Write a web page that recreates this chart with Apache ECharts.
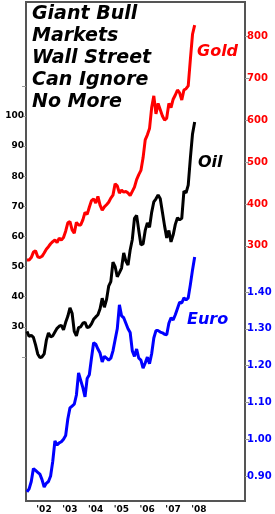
<!DOCTYPE html>
<html lang="en">
<head>
<meta charset="UTF-8">
<title>Giant Bull Markets</title>
<style>html,body{margin:0;padding:0;background:#fff}#main{width:275px;height:514px}</style>
</head>
<body>
<div id="main"></div>
<script src="https://cdn.jsdelivr.net/npm/echarts@6/dist/echarts.min.js"></script>
<script>
// monthly readings, Jun 2001 .. Dec 2007
var startYear = 2001, startMonth = 6;
var gold = [266, 266, 272, 285, 288, 274, 272, 275, 283, 292, 298, 305, 310, 314, 308, 318, 314, 320, 335,
    355, 358, 338, 330, 356, 350, 350, 362, 380, 375, 392, 408,
    412, 402, 418, 397, 385, 393, 398, 404, 414, 421, 448, 443,
    426, 433, 428, 430, 426, 420, 430, 440, 458, 470, 480, 510,
    553, 565, 580, 630, 658, 615, 640, 625, 610, 600, 605, 640,
    630, 650, 660, 672, 665, 648, 672, 675, 682, 745, 805, 827];
var oil = [28.5, 26.8, 27.2, 26.5, 24.0, 21.0, 19.8, 20.0, 21.0, 25.5, 28.0, 26.7, 27.0, 28.3, 29.5, 30.2, 30.5, 29.0, 31.5,
    33.5, 36.3, 34.5, 28.5, 27.0, 29.7, 30.0, 31.2, 31.5, 29.7, 30.0, 31.0,
    32.5, 33.3, 34.0, 36.0, 39.5, 36.5, 39.0, 43.5, 45.0, 51.5, 50.0, 46.6,
    48.0, 49.5, 54.5, 51.8, 50.5, 55.5, 59.0, 66.0, 67.0, 62.0, 57.2, 57.5,
    62.0, 64.5, 63.0, 68.0, 71.5, 72.5, 73.8, 72.5, 68.0, 63.5, 59.5, 62.0,
    58.2, 60.5, 64.0, 66.2, 65.5, 66.0, 75.0, 74.5, 77.0, 86.0, 94.0, 98.0];
var euro = [0.857, 0.865, 0.885, 0.920, 0.915, 0.910, 0.905, 0.890, 0.870, 0.880, 0.885, 0.900, 0.940, 0.995, 0.984, 0.990, 0.993, 1.000, 1.010,
    1.055, 1.085, 1.090, 1.095, 1.120, 1.180, 1.160, 1.140, 1.115, 1.165, 1.175, 1.220,
    1.262, 1.258, 1.245, 1.234, 1.210, 1.225, 1.220, 1.215, 1.220, 1.240, 1.270, 1.300,
    1.365, 1.335, 1.330, 1.315, 1.300, 1.290, 1.240, 1.225, 1.245, 1.220, 1.215, 1.193,
    1.207, 1.223, 1.205, 1.232, 1.275, 1.295, 1.295, 1.291, 1.289, 1.285, 1.284, 1.315,
    1.330, 1.324, 1.338, 1.355, 1.372, 1.370, 1.384, 1.378, 1.384, 1.420, 1.460, 1.495];
var years = [2002, 2003, 2004, 2005, 2006, 2007, 2008];
var oilLabels = [30, 40, 50, 60, 70, 80, 90, 100];
var oilTicks = [20, 30, 40, 50, 60, 70, 80, 90, 100, 110];
var goldLabels = [300, 400, 500, 600, 700, 800];
var euroLabels = [0.90, 1.00, 1.10, 1.20, 1.30, 1.40];
var titleLines = ['Giant Bull', 'Markets', 'Wall Street', 'Can Ignore', 'No More'];

function monthPos(i) {
    var m = startMonth - 1 + i;
    return startYear + Math.floor(m / 12) + ((m % 12) + 0.5) / 12;
}
function pairs(arr) {
    return arr.map(function (v, i) { return [monthPos(i), v]; });
}

var FONT = '"DejaVu Sans", Verdana, sans-serif';
var chart = echarts.init(document.getElementById('main'));

function yAx(pos, min, max, labels, ticks, color, fmt, size) {
    return {
        type: 'value', position: pos, min: min, max: max,
        splitLine: {show: false},
        axisLine: {show: true, onZero: false, lineStyle: {color: '#555', width: 2}},
        axisTick: {show: true, length: 4, lineStyle: {color: '#999', width: 1}, customValues: ticks},
        axisLabel: {
            show: true, customValues: labels, margin: 2, color: color, fontWeight: 'bold',
            fontFamily: FONT, fontSize: size, formatter: fmt
        }
    };
}

var graphics = titleLines.map(function (t, i) {
    return {
        type: 'text', left: 32, top: 5 + i * 22,
        style: {text: t, fill: '#000', font: 'italic bold 19px ' + FONT}
    };
});
graphics.push({type: 'text', left: 197, top: 44, style: {text: 'Gold', fill: '#ff0000', font: 'italic bold 16px ' + FONT}});
graphics.push({type: 'text', left: 198, top: 155, style: {text: 'Oil', fill: '#000', font: 'italic bold 16px ' + FONT}});
graphics.push({type: 'text', left: 187, top: 312, style: {text: 'Euro', fill: '#0000ff', font: 'italic bold 16px ' + FONT}});

var option = {
    animation: false,
    grid: {left: 26, right: 30, top: 2, bottom: 13, show: true, borderColor: '#555', borderWidth: 2},
    xAxis: {
        type: 'value', min: 2001.421, max: 2009.909,
        splitLine: {show: false},
        axisLine: {show: true, onZero: false, lineStyle: {color: '#555', width: 2}},
        axisTick: {show: false},
        axisLabel: {
            customValues: years.map(function (y) { return y + 0.119; }),
            formatter: function (v) { return "'" + String(Math.floor(v)).slice(2); },
            color: '#000', fontWeight: 'bold', fontFamily: FONT, fontSize: 9, margin: 4
        }
    },
    yAxis: [
        yAx('left', -27.8, 137.8, oilLabels, oilTicks, '#000', null, 9),
        yAx('right', -309, 882, goldLabels, goldLabels, '#ff0000', null, 10),
        yAx('right', 0.832, 2.188, euroLabels, euroLabels, '#0000ff', function (v) { return v.toFixed(2); }, 10)
    ],
    series: [
        {type: 'line', yAxisIndex: 2, data: pairs(euro), showSymbol: false, lineStyle: {color: '#0000ff', width: 3}},
        {type: 'line', yAxisIndex: 0, data: pairs(oil), showSymbol: false, lineStyle: {color: '#000', width: 3}},
        {type: 'line', yAxisIndex: 1, data: pairs(gold), showSymbol: false, lineStyle: {color: '#ff0000', width: 3}}
    ],
    graphic: graphics
};
chart.setOption(option);
</script>
</body>
</html>
